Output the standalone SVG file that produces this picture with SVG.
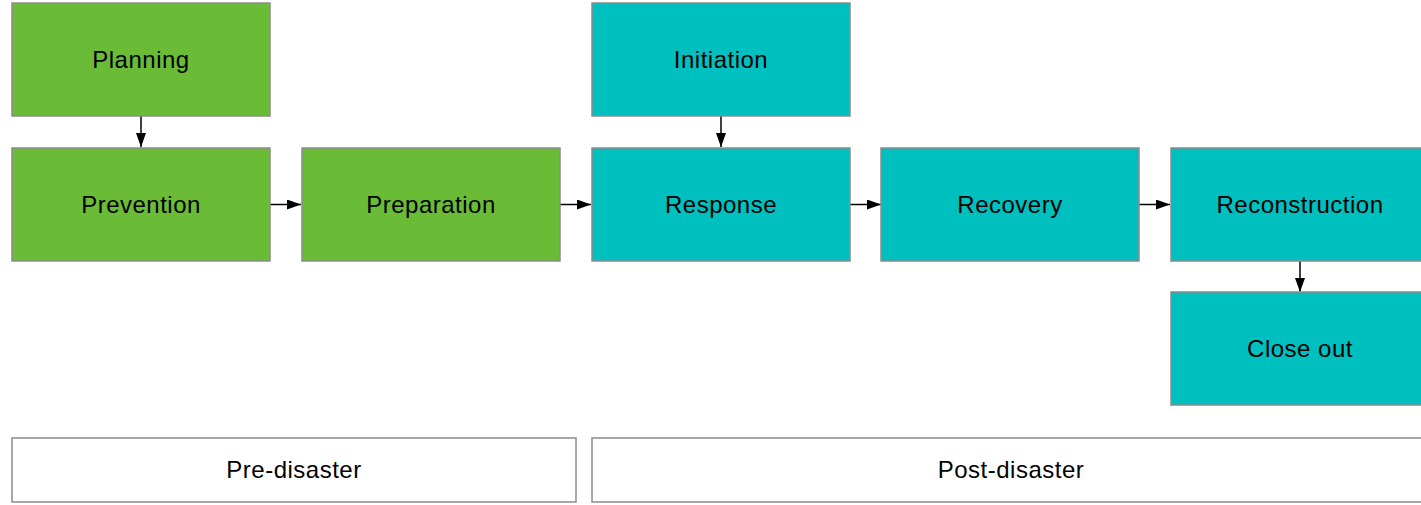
<svg xmlns="http://www.w3.org/2000/svg" width="1421" height="505" viewBox="0 0 1421 505">
<style>
.n rect{stroke:#8c8c8c;stroke-width:1.5}
.g rect{fill:#6abb36}
.c rect{fill:#00bfbf}
.w rect{fill:#ffffff}
text{font-family:"Liberation Sans",Arial,sans-serif;font-size:24px;fill:#000;text-anchor:middle;letter-spacing:0.5px}
.e line{stroke:#000;stroke-width:1.5}
</style>
<defs>
<marker id="a" viewBox="0 0 14 10" refX="14" refY="5" markerWidth="14" markerHeight="10" markerUnits="userSpaceOnUse" orient="auto">
<path d="M0,0 L14,5 L0,10 z" fill="#000"/>
</marker>
</defs>
<g class="e">
<line x1="141" y1="116" x2="141" y2="147" marker-end="url(#a)"/>
<line x1="721" y1="116" x2="721" y2="147" marker-end="url(#a)"/>
<line x1="1300" y1="261" x2="1300" y2="292" marker-end="url(#a)"/>
<line x1="270" y1="204.5" x2="301" y2="204.5" marker-end="url(#a)"/>
<line x1="560" y1="204.5" x2="591" y2="204.5" marker-end="url(#a)"/>
<line x1="850" y1="204.5" x2="881" y2="204.5" marker-end="url(#a)"/>
<line x1="1139" y1="204.5" x2="1170" y2="204.5" marker-end="url(#a)"/>
</g>
<g id="planning" class="n g"><rect x="12" y="3" width="258" height="113"/><text x="141" y="68">Planning</text></g>
<g id="prevention" class="n g"><rect x="12" y="148" width="258" height="113"/><text x="141" y="213">Prevention</text></g>
<g id="preparation" class="n g"><rect x="302" y="148" width="258" height="113"/><text x="431" y="213">Preparation</text></g>
<g id="initiation" class="n c"><rect x="592" y="3" width="258" height="113"/><text x="721" y="68">Initiation</text></g>
<g id="response" class="n c"><rect x="592" y="148" width="258" height="113"/><text x="721" y="213">Response</text></g>
<g id="recovery" class="n c"><rect x="881" y="148" width="258" height="113"/><text x="1010" y="213">Recovery</text></g>
<g id="reconstruction" class="n c"><rect x="1171" y="148" width="258" height="113"/><text x="1300" y="213">Reconstruction</text></g>
<g id="closeout" class="n c"><rect x="1171" y="292" width="258" height="113"/><text x="1300" y="357">Close out</text></g>
<g id="predisaster" class="n w"><rect x="12" y="438" width="564" height="64"/><text x="294" y="478">Pre-disaster</text></g>
<g id="postdisaster" class="n w"><rect x="592" y="438" width="850" height="64"/><text x="1011" y="478">Post-disaster</text></g>
</svg>
